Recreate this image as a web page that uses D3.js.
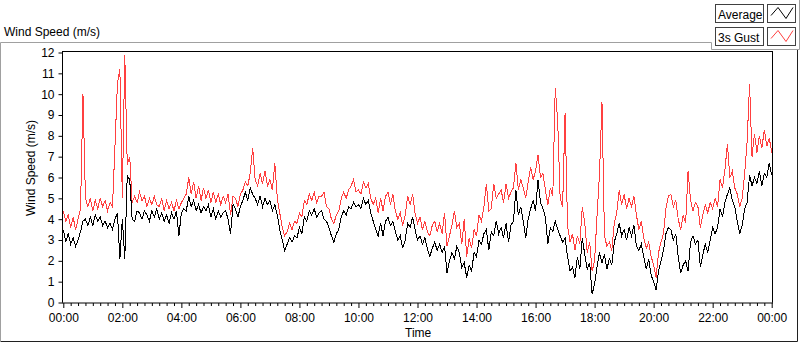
<!DOCTYPE html>
<html>
<head>
<meta charset="utf-8">
<script src="https://cdn.jsdelivr.net/npm/d3@7"></script>
<style>
  body { margin: 0; background: #fff; }
  svg text { font-family: "Liberation Sans", Arial, sans-serif; fill: #000; }
</style>
</head>
<body>
<svg id="chart" width="800" height="342"></svg>
<script>
// one reading every 5 minutes, 00:00 .. 24:00
const stepMinutes = 5;

const avgSpeed = [
  3.5,2.9,3.3,2.8,3.1,2.7,3.0,3.4,3.9,4.0,3.7,4.1,3.7,4.2,3.9,4.1,3.7,3.9,3.6,3.8,3.5,4.0,4.3,2.1,4.0,2.1,6.1,5.9,4.0,3.9,4.4,4.3,4.0,4.4,
  4.2,3.9,4.4,4.1,4.5,4.0,4.3,3.9,4.2,3.8,4.3,4.0,4.4,3.2,4.3,4.5,4.4,5.1,4.6,4.9,4.4,4.7,4.3,4.6,4.4,4.7,4.1,4.5,4.0,4.4,4.1,4.3,4.4,4.0,3.3,4.7,
  4.5,4.1,4.6,4.9,5.3,4.9,5.5,5.2,5.0,4.7,5.1,4.6,5.0,4.7,4.9,4.4,4.7,4.2,3.5,3.0,2.5,2.8,3.1,2.9,3.2,3.1,3.6,3.3,4.1,3.9,4.4,4.2,4.5,4.1,4.3,
  4.4,4.0,3.9,3.6,3.2,2.9,3.3,3.5,4.1,4.4,4.2,4.6,4.5,4.8,4.6,4.7,4.5,5.0,4.7,4.9,4.3,3.9,3.5,3.2,3.8,3.2,3.9,4.1,3.7,3.9,3.4,3.0,3.2,2.6,
  3.0,3.8,3.6,4.1,3.5,3.0,3.2,2.8,3.1,2.6,2.2,2.6,2.9,2.5,2.8,2.4,2.7,1.4,2.0,2.4,2.1,2.7,2.4,1.7,1.9,1.2,1.8,1.5,2.4,2.2,3.0,2.8,3.3,
  3.5,2.5,3.4,3.2,3.9,3.3,3.6,3.1,3.8,2.9,3.7,3.9,5.4,4.2,4.6,3.9,3.1,4.0,4.5,4.9,4.4,5.9,4.8,4.5,4.1,2.8,3.6,3.4,3.9,3.5,3.2,2.9,3.1,2.2,1.5,1.7,1.2,
  2.2,1.6,3.1,2.3,1.6,1.9,0.4,0.9,1.7,2.4,1.9,2.3,1.6,2.1,1.8,2.9,3.3,3.8,3.2,3.5,3.0,3.6,3.2,3.7,2.7,2.5,2.8,2.2,1.6,2.1,1.3,1.0,0.6,1.5,2.0,2.5,3.3,3.6,
  3.5,3.0,3.3,2.2,1.4,1.8,2.0,1.5,2.9,3.2,2.8,3.0,1.7,2.3,2.8,2.4,3.0,3.6,3.3,3.6,4.5,4.1,4.8,5.2,5.5,4.9,4.6,3.9,3.3,3.7,4.5,4.8,6.1,5.6,6.0,5.7,6.3,5.6,6.2,6.0,6.7,6.1
];

const gustSpeed = [
  4.4,3.9,4.2,3.6,4.1,3.5,4.0,4.5,10.0,5.0,4.6,5.0,4.4,4.9,4.5,5.0,4.6,4.9,4.4,4.8,4.6,7.5,10.5,11.2,5.0,11.9,6.6,7.0,4.8,5.1,4.8,5.3,4.9,5.1,
  4.6,5.0,4.7,5.1,4.7,4.6,5.0,4.4,4.9,4.5,4.8,4.4,4.9,4.5,4.8,5.0,5.2,6.0,5.2,5.8,5.0,5.6,4.9,5.5,5.0,5.4,4.8,5.3,4.8,5.2,4.7,5.1,4.8,5.2,4.2,5.1,
  5.0,4.6,5.2,5.4,5.8,5.6,6.2,7.4,5.9,5.6,6.2,5.7,6.3,5.6,5.9,5.4,6.7,5.0,4.3,3.6,3.2,3.4,3.8,3.5,3.9,3.8,4.3,4.1,4.9,4.7,5.2,4.9,5.3,4.8,5.1,
  5.1,5.3,4.6,4.5,4.0,3.8,4.2,4.4,5.0,5.3,5.0,5.4,5.6,5.9,5.3,5.4,5.2,5.8,5.5,5.7,5.0,4.7,5.0,4.3,5.0,4.4,5.1,5.3,4.7,5.2,4.4,4.0,4.3,3.7,
  4.2,5.1,4.7,5.2,4.3,3.8,4.1,3.5,3.9,3.4,3.2,3.7,3.9,3.4,3.8,3.3,4.3,2.7,3.2,3.7,4.4,3.6,3.8,2.8,4.0,2.2,3.1,2.6,3.5,3.2,4.2,3.9,4.6,
  5.7,4.4,4.5,5.7,5.0,5.2,5.4,4.8,5.7,5.0,5.3,5.5,6.7,5.4,5.9,5.5,5.0,5.8,6.5,5.9,6.3,7.1,6.0,6.2,5.4,4.7,5.5,5.1,10.3,8.7,5.0,4.6,9.1,3.7,2.9,3.3,2.5,
  3.2,2.8,4.6,3.8,2.4,2.9,1.5,2.0,4.2,6.2,9.6,3.2,2.7,2.9,2.5,3.8,4.3,5.4,4.7,5.2,4.5,5.0,4.6,5.1,4.2,3.5,3.9,3.1,2.6,2.9,2.2,1.8,1.2,2.4,2.9,3.3,4.5,5.1,
  5.2,4.6,4.9,4.0,3.5,4.2,3.8,6.3,4.9,4.4,4.8,4.6,3.6,4.2,4.7,4.3,4.8,4.5,5.0,4.6,5.9,5.5,6.4,7.6,6.0,6.3,5.5,5.2,4.6,5.0,6.2,7.7,10.5,7.0,8.1,7.2,8.0,7.4,8.3,7.5,7.9,7.2
];

const yTicks = [0,1,2,3,4,5,6,7,8,9,10,11,12];
const xTickHours = [0,2,4,6,8,10,12,14,16,18,20,22,24];
const xTickLabels = ["00:00","02:00","04:00","06:00","08:00","10:00","12:00","14:00","16:00","18:00","20:00","22:00","00:00"];
const seriesNames = ["Average","3s Gust"];
const seriesColors = ["#000000","#ff4040"];

const svg = d3.select('#chart');

const plot = { left: 62.5, right: 772.5, top: 51.5, bottom: 303 };
const x = d3.scaleLinear().domain([0, 24]).range([63.3, 771.7]);
const y = d3.scaleLinear().domain([0, 12]).range([302.5, 52.5]);
const hourOf = i => i * stepMinutes / 60;

// outer frame (sunken look)
svg.append('path')
  .attr('d', 'M0.5,341 V42.5 H711.5')
  .attr('fill', 'none').attr('stroke', '#a0a0a0');
svg.append('path')
  .attr('d', 'M0.5,341.5 H797.5 V49.5')
  .attr('fill', 'none').attr('stroke', '#202020');
svg.append('path')
  .attr('d', 'M711.5,42.5 V49.5 H799.5 M799.5,0 V49.5')
  .attr('fill', 'none').attr('stroke', '#a0a0a0');

// chart title
svg.append('text').attr('x', 4).attr('y', 36).style('font-size', '12px').text('Wind Speed (m/s)');

// plot area
svg.append('rect')
  .attr('x', plot.left).attr('y', plot.top)
  .attr('width', plot.right - plot.left).attr('height', plot.bottom - plot.top)
  .attr('fill', '#fff').attr('stroke', '#000');

// series lines, drawn without smoothing like the instrument display
const line = d3.line().x((_, i) => x(hourOf(i))).y(d => y(d));
svg.append('path').datum(gustSpeed)
  .attr('fill', 'none').attr('stroke', seriesColors[1]).attr('stroke-width', 1)
  .attr('shape-rendering', 'crispEdges').attr('d', line);
svg.append('path').datum(avgSpeed)
  .attr('fill', 'none').attr('stroke', seriesColors[0]).attr('stroke-width', 1)
  .attr('shape-rendering', 'crispEdges').attr('d', line);

// y axis
const yAxis = svg.append('g').attr('transform', `translate(${plot.left},0)`)
  .call(d3.axisLeft(y).tickValues(yTicks).tickSize(4).tickPadding(4));
yAxis.select('.domain').remove();
yAxis.selectAll('text').style('font-size', '12px').attr('fill', '#000');

svg.append('text')
  .attr('transform', 'translate(35,168) rotate(-90)')
  .attr('text-anchor', 'middle').style('font-size', '12px')
  .text('Wind Speed (m/s)');

// x axis: gray baseline, 15 min minor ticks, 2 h labelled ticks
svg.append('line')
  .attr('x1', plot.left).attr('x2', plot.right)
  .attr('y1', plot.bottom).attr('y2', plot.bottom)
  .attr('stroke', '#808080');

const minorHours = d3.range(0, 24.01, 0.25).filter(h => h % 2 !== 0);
svg.append('g').attr('transform', `translate(0,${plot.bottom})`)
  .call(d3.axisBottom(x).tickValues(minorHours).tickSize(3).tickFormat(''))
  .call(g => g.select('.domain').remove());

const xAxis = svg.append('g').attr('transform', `translate(0,${plot.bottom})`)
  .call(d3.axisBottom(x).tickValues(xTickHours).tickSize(5).tickPadding(5)
    .tickFormat((_, i) => xTickLabels[i]));
xAxis.select('.domain').remove();
xAxis.selectAll('text').style('font-size', '12px').attr('fill', '#000');

svg.append('text').attr('x', 405).attr('y', 337).style('font-size', '12px').text('Time');

// legend
const legend = svg.append('g');
seriesNames.forEach((name, i) => {
  const top = 4.5 + i * 23;
  legend.append('rect').attr('x', 715.5).attr('y', top).attr('width', 48).attr('height', 18)
    .attr('fill', '#fff').attr('stroke', '#404040');
  legend.append('text').attr('x', 718).attr('y', top + 14).style('font-size', '12px').text(name);
  legend.append('rect').attr('x', 767.5).attr('y', top).attr('width', 28).attr('height', 18)
    .attr('fill', '#fff').attr('stroke', '#404040');
  const icon = [[771, top + 11], [778, top + 3], [786, top + 14], [793, top + 3]];
  legend.append('path').attr('d', d3.line()(icon))
    .attr('fill', 'none').attr('stroke', seriesColors[i]);
});
</script>
</body>
</html>
